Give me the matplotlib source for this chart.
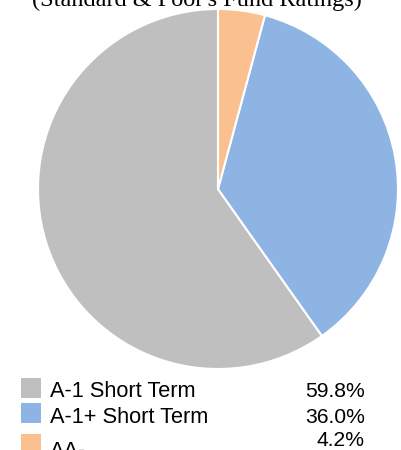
import matplotlib
matplotlib.use("Agg")
import matplotlib.pyplot as plt
from matplotlib.patches import Rectangle

# chart data
ratings = ["A-1 Short Term", "A-1+ Short Term", "AA-"]
shares = [59.8, 36.0, 4.2]
colors = ["#BFBFBF", "#8EB4E3", "#FAC090"]
title = "(Standard & Poor's Fund Ratings)"

W, H = 402, 450
fig = plt.figure(figsize=(W / 100, H / 100), dpi=100)

# pie axes: centre ~(218,189) px, radius ~180 px
ax = fig.add_axes([38 / W, (H - 369) / H, 360 / W, 360 / H])
ax.pie(shares, colors=colors, startangle=90, counterclock=True,
       wedgeprops=dict(edgecolor="white", linewidth=1.5))
ax.set_xlim(-1, 1)
ax.set_ylim(-1, 1)
ax.set_aspect("equal")
ax.axis("off")

# title, partially cut by the top edge
fig.text(197 / W, 1 - 6 / H, title, ha="center", va="baseline",
         fontsize=17.5, family="Liberation Serif")

# legend rows (px from top): square top, label baseline, value baseline
sq_top = [378, 403, 434]
label_base = [397, 423, 457]
value_base = [397, 423, 446]
for i, (name, val, col) in enumerate(zip(ratings, shares, colors)):
    fig.patches.append(Rectangle((21 / W, 1 - (sq_top[i] + 20) / H), 20 / W, 20 / H,
                                 transform=fig.transFigure, facecolor=col,
                                 edgecolor="none"))
    fig.text(50 / W, 1 - label_base[i] / H, name, ha="left", va="baseline",
             fontsize=15.7, family="Liberation Sans")
    fig.text(365 / W, 1 - value_base[i] / H, f"{val:.1f}%", ha="right",
             va="baseline", fontsize=15.2, family="Liberation Sans")

fig.savefig("out.png", dpi=100)
